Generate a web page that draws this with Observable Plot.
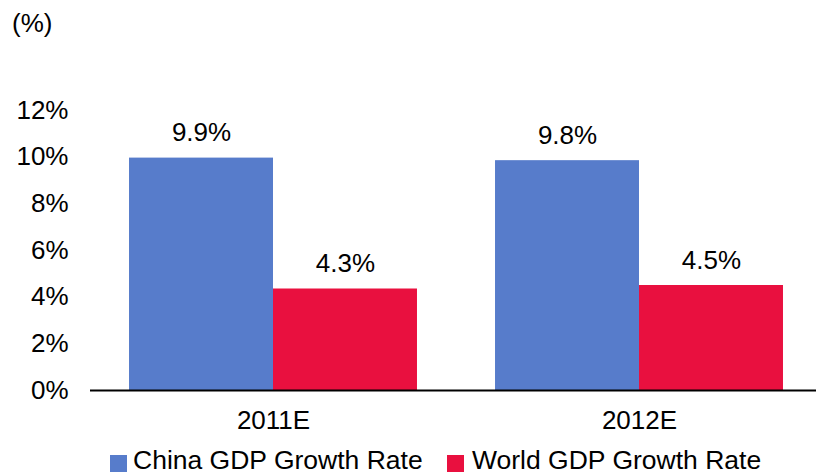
<!DOCTYPE html>
<html>
<head>
<meta charset="utf-8">
<script src="https://cdn.jsdelivr.net/npm/d3@7"></script>
<script src="https://cdn.jsdelivr.net/npm/@observablehq/plot@0.6"></script>
<style>
  html, body { margin: 0; padding: 0; background: #fff; overflow: hidden; }
  #wrap { position: relative; width: 816px; height: 475px;
          font-family: "Liberation Sans", Arial, sans-serif; color: #000; }
  #unit { position: absolute; left: 12px; top: 10px; font-size: 26px; line-height: 26px; }
  #chart { position: absolute; left: 0; top: 0; width: 816px; height: 440px; overflow: hidden; }
  .lg { position: absolute; top: 448px; font-size: 26.5px; line-height: 24px; white-space: nowrap; }
  .sw { position: absolute; width: 17px; height: 17px; top: 455px; }
</style>
</head>
<body>
<div id="wrap">
  <div id="chart"></div>
  <div id="unit">(%)</div>
</div>
<script>
const years = ["2011E", "2012E"];
const series = ["China GDP Growth Rate", "World GDP Growth Rate"];
const chinaValues = [9.96, 9.85];
const worldValues = [4.35, 4.5];
const chinaLabels = ["9.9%", "9.8%"];
const worldLabels = ["4.3%", "4.5%"];
const yTicks = [0, 2, 4, 6, 8, 10, 12];
const colors = ["#577CCB", "#E9103F"];

const data = [];
years.forEach((yr, i) => {
  data.push({year: yr, series: series[0], value: chinaValues[i], label: chinaLabels[i]});
  data.push({year: yr, series: series[1], value: worldValues[i], label: worldLabels[i]});
});

const font = '"Liberation Sans", Arial, sans-serif';
const chart = Plot.plot({
  width: 822,
  height: 440,
  marginTop: 110,
  marginBottom: 50,
  marginLeft: 90,
  marginRight: 0,
  style: {fontSize: "26px", fontFamily: font, color: "#000", background: "transparent", maxWidth: "none"},
  fx: {domain: years, padding: 0, round: false, label: null, tickSize: 0, tickPadding: 20},
  x: {domain: series, axis: null, round: false, paddingInner: 0, paddingOuter: 0.271},
  y: {domain: [0, 12], ticks: yTicks, tickFormat: d => d + "%", tickSize: 0, tickPadding: 22, label: null},
  color: {domain: series, range: colors},
  marks: [
    Plot.barY(data, {fx: "year", x: "series", y: "value", fill: "series"}),
    Plot.text(data, {fx: "year", x: "series", y: "value", text: "label", dy: -25, fontSize: 26, fill: "#000"}),
    Plot.ruleY([0], {stroke: "#000", strokeWidth: 2})
  ]
});
document.getElementById("chart").appendChild(chart);

const wrap = document.getElementById("wrap");
const swX = [110, 447];
const txX = [133, 472];
series.forEach((s, i) => {
  const sw = document.createElement("div");
  sw.className = "sw";
  sw.style.left = swX[i] + "px";
  sw.style.background = colors[i];
  wrap.appendChild(sw);
  const t = document.createElement("div");
  t.className = "lg";
  t.style.left = txX[i] + "px";
  t.textContent = s;
  wrap.appendChild(t);
});
</script>
</body>
</html>
